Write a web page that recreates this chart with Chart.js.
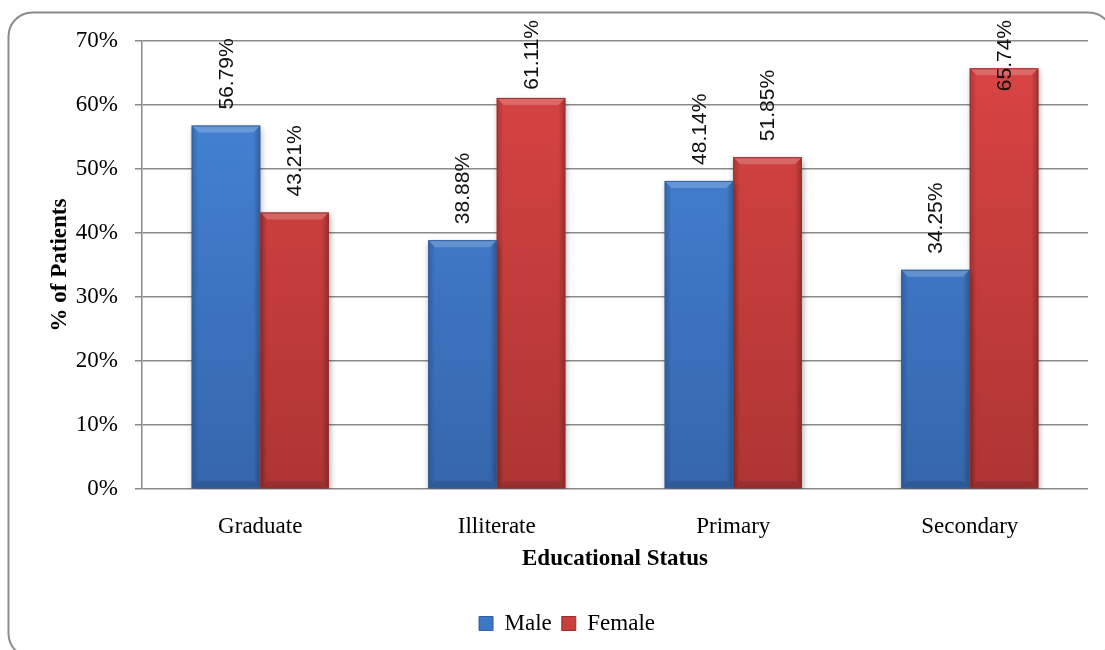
<!DOCTYPE html>
<html>
<head>
<meta charset="utf-8">
<title>Educational Status by Gender</title>
<script src="https://cdn.jsdelivr.net/npm/chart.js@4/dist/chart.umd.min.js"></script>
<style>
  html, body { margin: 0; padding: 0; background: #ffffff; }
  #wrap { width: 1105px; height: 650px; position: relative; }
</style>
</head>
<body>
<div id="wrap"><canvas id="chart" width="1105" height="650"></canvas></div>
<script>
// Share of patients by educational status, split by gender (percent)
const categories = ['Graduate', 'Illiterate', 'Primary', 'Secondary'];
const maleValues = [56.79, 38.88, 48.14, 34.25];
const femaleValues = [43.21, 61.11, 51.85, 65.74];
const seriesNames = ['Male', 'Female'];
const yTicks = [0, 10, 20, 30, 40, 50, 60, 70];

const SERIF = "'Liberation Serif', 'Times New Roman', serif";
const SANS = "'Liberation Sans', Arial, sans-serif";

const palette = {
  Male:   { top: '#4686DA', bottom: '#3566AC', solid: '#3D77C6', edge: '#30609F' },
  Female: { top: '#DA4544', bottom: '#AE3534', solid: '#C83F3E', edge: '#962F2E' }
};

function verticalFill(name) {
  return function (ctx) {
    const chart = ctx.chart;
    const area = chart.chartArea;
    if (!area) return palette[name].solid;
    const g = chart.ctx.createLinearGradient(0, area.top, 0, area.bottom);
    g.addColorStop(0, palette[name].top);
    g.addColorStop(1, palette[name].bottom);
    return g;
  };
}

// Rounded outer frame of the chart
const framePlugin = {
  id: 'frame',
  beforeDraw(chart) {
    const c = chart.ctx;
    c.save();
    c.fillStyle = '#ffffff';
    c.fillRect(0, 0, chart.width, chart.height);
    c.beginPath();
    c.roundRect(8.5, 12.5, 1104, 645, 24);
    c.strokeStyle = '#8c8c8c';
    c.lineWidth = 2;
    c.stroke();
    c.restore();
  }
};

// Soft drop shadow under each bar
const shadowPlugin = {
  id: 'barShadow',
  beforeDatasetDraw(chart) {
    const c = chart.ctx;
    c.save();
    c.shadowColor = 'rgba(0,0,0,0.35)';
    c.shadowBlur = 6;
    c.shadowOffsetX = 1;
    c.shadowOffsetY = 3;
  },
  afterDatasetDraw(chart) {
    chart.ctx.restore();
  }
};

// Bevelled edges on the bars
const bevelPlugin = {
  id: 'bevel',
  afterDatasetsDraw(chart) {
    const c = chart.ctx;
    chart.data.datasets.forEach((ds, di) => {
      const meta = chart.getDatasetMeta(di);
      const name = seriesNames[di];
      meta.data.forEach(bar => {
        const p = bar.getProps(['x', 'y', 'base', 'width'], true);
        const l = p.x - p.width / 2, r = p.x + p.width / 2;
        const t = p.y, b = p.base;
        const k = 7;
        c.save();
        // top bevel
        c.beginPath();
        c.moveTo(l, t); c.lineTo(r, t); c.lineTo(r - k, t + k); c.lineTo(l + k, t + k); c.closePath();
        c.fillStyle = 'rgba(255,255,255,0.2)';
        c.fill();
        // left edge
        let g = c.createLinearGradient(l, 0, l + k, 0);
        g.addColorStop(0, 'rgba(0,0,0,0.18)');
        g.addColorStop(1, 'rgba(0,0,0,0)');
        c.beginPath();
        c.moveTo(l, t); c.lineTo(l + k, t + k); c.lineTo(l + k, b - k); c.lineTo(l, b); c.closePath();
        c.fillStyle = g; c.fill();
        // right edge
        g = c.createLinearGradient(r, 0, r - k, 0);
        g.addColorStop(0, 'rgba(0,0,0,0.26)');
        g.addColorStop(1, 'rgba(0,0,0,0)');
        c.beginPath();
        c.moveTo(r, t); c.lineTo(r - k, t + k); c.lineTo(r - k, b - k); c.lineTo(r, b); c.closePath();
        c.fillStyle = g; c.fill();
        // bottom edge
        c.beginPath();
        c.moveTo(l, b); c.lineTo(r, b); c.lineTo(r - k, b - k); c.lineTo(l + k, b - k); c.closePath();
        c.fillStyle = 'rgba(0,0,0,0.12)';
        c.fill();
        // outline
        c.strokeStyle = palette[name].edge;
        c.lineWidth = 1;
        c.strokeRect(l + 0.5, t + 0.5, p.width - 1, b - t - 1);
        c.restore();
      });
    });
  }
};

// Rotated value labels above each bar
const valueLabelPlugin = {
  id: 'valueLabels',
  afterDatasetsDraw(chart) {
    const c = chart.ctx;
    c.save();
    c.font = '21px ' + SANS;
    c.fillStyle = '#111111';
    c.textAlign = 'left';
    c.textBaseline = 'middle';
    chart.data.datasets.forEach((ds, di) => {
      const meta = chart.getDatasetMeta(di);
      meta.data.forEach((bar, i) => {
        const text = ds.data[i].toFixed(2) + '%';
        const w = c.measureText(text).width;
        let start = bar.y - 16;
        if (start - w < 20) start = 20 + w;
        c.save();
        c.translate(bar.x + 1, start);
        c.rotate(-Math.PI / 2);
        c.fillText(text, 0, 0);
        c.restore();
      });
    });
    c.restore();
  }
};

const chart = new Chart(document.getElementById('chart'), {
  type: 'bar',
  data: {
    labels: categories,
    datasets: [
      {
        label: seriesNames[0],
        data: maleValues,
        backgroundColor: verticalFill('Male'),
        borderWidth: 0,
        categoryPercentage: 0.58,
        barPercentage: 1.0
      },
      {
        label: seriesNames[1],
        data: femaleValues,
        backgroundColor: verticalFill('Female'),
        borderWidth: 0,
        categoryPercentage: 0.58,
        barPercentage: 1.0
      }
    ]
  },
  options: {
    responsive: false,
    animation: false,
    devicePixelRatio: 1,
    layout: { padding: { left: 46, right: 17, top: 41, bottom: 5 } },
    plugins: {
      tooltip: { enabled: false },
      legend: {
        position: 'bottom',
        labels: {
          font: { family: SERIF, size: 23 },
          color: '#000000',
          boxWidth: 14,
          boxHeight: 14,
          padding: 10,
          generateLabels(chart) {
            return chart.data.datasets.map((ds, i) => ({
              text: ds.label,
              fillStyle: palette[ds.label].solid,
              strokeStyle: palette[ds.label].edge,
              lineWidth: 1,
              hidden: false,
              datasetIndex: i
            }));
          }
        }
      }
    },
    scales: {
      x: {
        grid: { display: false },
        border: { display: false },
        ticks: {
          font: { family: SERIF, size: 23 },
          color: '#000000',
          padding: 16,
          maxRotation: 0
        },
        title: {
          display: true,
          text: 'Educational Status',
          font: { family: SERIF, size: 23, weight: 'bold' },
          color: '#000000',
          padding: { top: 0, bottom: 29 }
        },
        afterFit(scale) { scale.height = 113; }
      },
      y: {
        min: 0,
        max: 70,
        afterBuildTicks(scale) { scale.ticks = yTicks.map(v => ({ value: v })); },
        grid: {
          color: '#8a8a8a',
          lineWidth: 1.5,
          tickLength: 7,
          drawTicks: true
        },
        border: { display: true, color: '#8a8a8a', width: 1.5 },
        ticks: {
          font: { family: SERIF, size: 23 },
          color: '#000000',
          padding: 17,
          callback: v => v + '%'
        },
        title: {
          display: true,
          text: '% of Patients',
          font: { family: SERIF, size: 23, weight: 'bold' },
          color: '#000000',
          padding: { top: 0, bottom: 0 }
        },
        afterFit(scale) { scale.width = 142 - 46; }
      }
    }
  },
  plugins: [framePlugin, shadowPlugin, bevelPlugin, valueLabelPlugin]
});
</script>
</body>
</html>
